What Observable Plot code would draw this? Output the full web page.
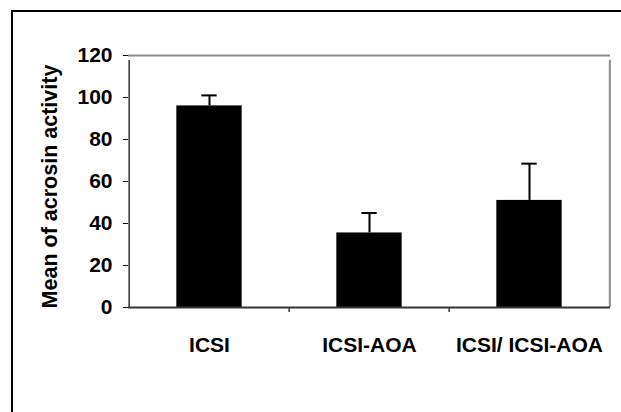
<!DOCTYPE html>
<html><head><meta charset="utf-8">
<script src="https://cdn.jsdelivr.net/npm/d3@7"></script>
<script src="https://cdn.jsdelivr.net/npm/@observablehq/plot@0.6"></script>
<style>
html,body{margin:0;padding:0;background:#fff;}
#wrap{position:relative;width:621px;height:412px;overflow:hidden;}
#border{position:absolute;left:11px;top:10px;width:700px;height:500px;border-left:2px solid #000;border-top:2px solid #000;pointer-events:none;}
</style></head><body>
<div id="wrap"><div id="chart"></div><div id="border"></div></div>
<script>
const categories = ["ICSI", "ICSI-AOA", "ICSI/ ICSI-AOA"];
const means = [96, 35.5, 51];
const errors = [5, 9.5, 17.5];
const yTicks = [0, 20, 40, 60, 80, 100, 120];
const yLabel = "Mean of acrosin activity";

const data = categories.map((c, i) => ({cat: c, mean: means[i], hi: means[i] + errors[i]}));
const W = 621, H = 412, mL = 128, mR = 11, mT = 55, mB = 105;
const bw = (W - mL - mR) / categories.length;
const barW = 66, capW = 16;
const font = "'Liberation Sans', Arial, Helvetica, sans-serif";
const axisDark = "#333", frameGray = "#8c8c8c";
const y0 = yTicks[0], yMax = yTicks[yTicks.length - 1];

const plot = Plot.plot({
  width: W, height: H, marginLeft: mL, marginRight: mR, marginTop: mT, marginBottom: mB,
  style: {fontFamily: font, fontSize: "21px", fontWeight: "bold", color: "#000", background: "#fff", overflow: "visible"},
  x: {domain: categories, padding: 0, tickSize: 0, tickPadding: 30, label: null},
  y: {domain: [y0, yMax], ticks: yTicks, tickSize: 5, tickPadding: 11, label: null},
  marks: [
    Plot.ruleY([yMax], {stroke: frameGray, strokeWidth: 2}),
    Plot.ruleX([categories[categories.length - 1]], {x: d => d, dx: bw / 2, y1: y0, y2: yMax, insetBottom: -5, stroke: frameGray, strokeWidth: 2}),
    Plot.barY(data, {x: "cat", y: "mean", fill: "#000", insetLeft: (bw - barW) / 2, insetRight: (bw - barW) / 2}),
    Plot.ruleX(data, {x: "cat", y1: "mean", y2: "hi", stroke: "#000", strokeWidth: 2}),
    Plot.tickY(data, {x: "cat", y: "hi", stroke: "#000", strokeWidth: 2, insetLeft: (bw - capW) / 2, insetRight: (bw - capW) / 2}),
    Plot.ruleY([y0], {stroke: axisDark, strokeWidth: 2}),
    Plot.ruleX(categories.slice(1), {x: d => d, dx: -bw / 2, y1: y0, y2: y0, insetBottom: -5, stroke: axisDark, strokeWidth: 1.5}),
    Plot.ruleX([categories[0]], {x: d => d, dx: -bw / 2, y1: y0, y2: yMax, insetBottom: -5, stroke: axisDark, strokeWidth: 1.5}),
    Plot.text([yLabel], {frameAnchor: "left", textAnchor: "middle", lineAnchor: "middle", rotate: -90, dx: -78, dy: 5, text: d => d, fontSize: 21.5, fontWeight: "bold", fill: "#000"})
  ]
});
document.getElementById("chart").appendChild(plot);
</script>
</body></html>
